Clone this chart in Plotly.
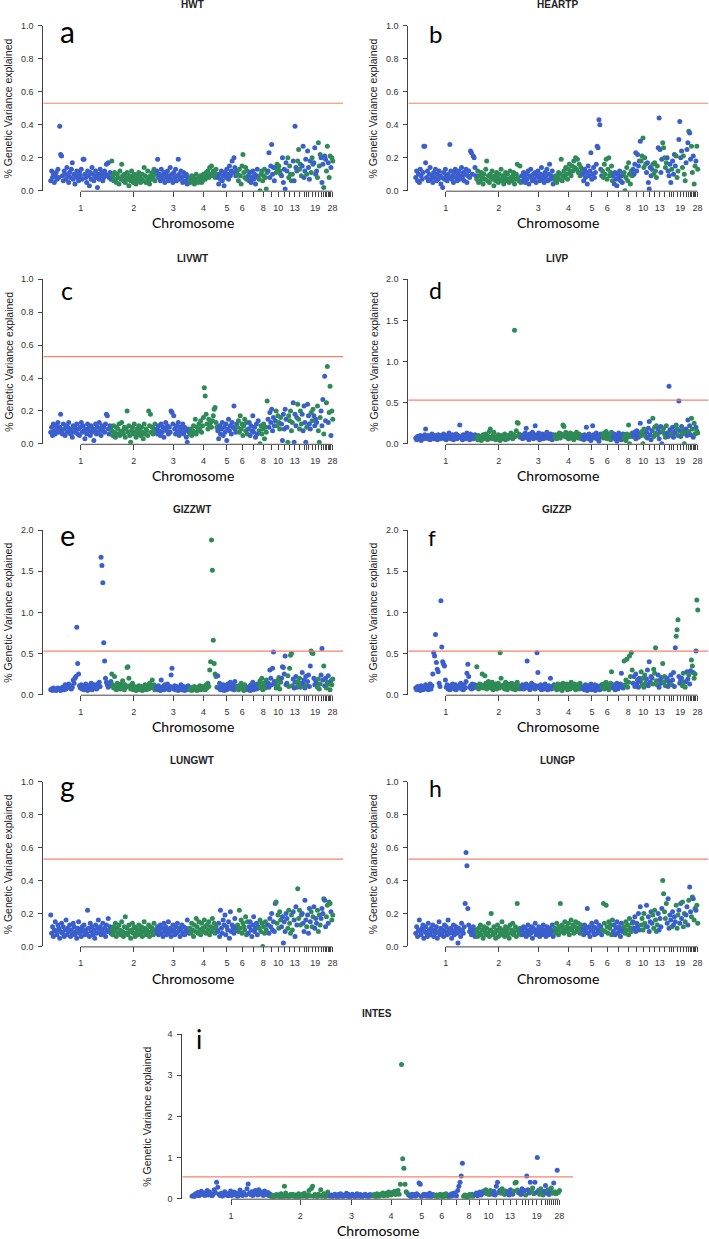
import plotly.graph_objects as go

# ---------------- data ----------------
# chromosome sizes expressed as number of 1-Mb windows (read from the axis layout)
CHR_WINDOWS = [203, 151, 111, 91, 66, 36, 38, 28, 26, 20, 19, 18, 16, 16, 14, 3,
               11, 11, 10, 14, 7, 4, 6, 6, 3, 5, 5, 5]
CHR_NAMES = [str(i) for i in range(1, 29)]
SHOWN_LABELS = ["1", "2", "3", "4", "5", "6", "8", "10", "13", "19", "28"]
THRESHOLD = 0.53

# % genetic variance explained (x100), read along the genome from left to right
HWT = [
    6,12,8,10,5,9,11,7,13,8, 39,22,21,9,6,12,10,7,14,9, 5,11,8,13,17,7,10,4,9,12,
    8,6,11,9,13,7,19,19,10,8, 5,12,9,3,11,7,14,10,6,9, 12,8,2,10,7,13,9,11,6,8,
    12,10,16,9,17,8,11,7,
    18,9,6,11,7,5,10,8,4,12, 7,16,9,6,10,5,8,11,7,3, 9,6,12,8,5,10,7,4,9,6,
    11,8,5,7,10,6,14,9,5,8, 12,6,4,9,7,11,8,13,6,10,
    12,19,8,10,6,13,9,7,11,5, 10,8,12,6,9,14,7,10,5,11, 8,13,6,9,19,10,7,12,8,5,
    11,9,6,10,4,8,7,
    7,5,9,6,8,4,7,10,6,5, 8,7,9,5,6,10,8,7,11,9, 12,8,14,10,15,9,12,11,8,13, 10,
    8,4,10,7,12,6,9,3,11,8, 13,10,7,15,9,12,18,11,20,14, 9,12,
    10,6,13,9,4,15,22,11,8,14,7,12,
    9,6,11,5,8,12,7,10,4,9,13,8,
    7,0,10,12,6,9,13,8,1,11,
    12,23,8,15,28,10,14,6,
    14,11,16,13,15,12,10,
    9,20,5,13,1,17,
    12,20,8,15,10,6,
    10,18,6,39,14,12,
    18,25,13,16,9,
    15,27,8,12,19,
    10,
    24,14,7,
    18,11,20,16,
    17,26,10,
    12,8,29,15,22,
    20,5,
    16,2,21,19,12,27,17,8,21,14,20,18,
]

HEARTP = [
    8,12,6,10,5,13,9,7,11,27, 27,17,8,12,6,10,14,7,9,5, 11,8,13,6,10,7,12,9,4,8,
    2,11,7,13,9,6,10,8,28,12, 7,9,5,11,13,8,6,10,12,7, 9,14,8,11,6,10,13,5,9,12,
    8,24,23,10,21,20,14,9,
    7,12,5,9,6,11,8,4,10,7, 13,18,6,9,5,10,8,12,7,3, 9,6,11,8,5,10,7,13,6,9,
    4,8,11,6,10,7,5,12,8,6, 9,11,4,7,10,16,8,6,15,5,
    9,6,11,8,5,10,7,12,4,9, 13,8,6,10,7,11,5,9,12,8, 6,10,14,7,9,5,11,8,13,6,
    10,16,7,9,12,4,8,
    6,9,5,8,11,7,10,19,6,9, 12,8,14,10,7,13,16,11,9,15, 12,18,14,20,13,19,11,16,9,14, 12,
    10,6,13,8,11,4,15,9,12,23, 7,10,14,8,11,16,27,26,43,40, 13,9,
    12,8,16,10,19,7,13,20,9,11,15,6,
    9,4,11,7,3,10,8,12,6,9,5,10,
    11,0,8,14,6,17,10,4,12,9,
    13,10,16,23,12,22,15,18,
    30,18,21,32,14,20,16,
    11,17,5,1,14,9,
    13,16,10,17,12,8,
    15,26,44,25,11,19,
    29,26,20,14,17,
    20,12,9,16,5,
    13,
    18,10,22,
    15,21,8,12,
    31,42,20,
    24,14,21,10,6,
    17,25,
    29,36,35,19,27,11,21,4,15,18,27,13,
]

LIVWT = [
    7,10,5,12,8,6,11,9,13,7, 10,18,8,6,12,9,5,11,7,10, 13,8,6,9,4,11,7,10,8,12,
    6,9,5,10,13,7,11,8,3,9, 6,12,8,10,5,11,7,9,2,8, 12,6,10,7,13,9,5,11,8,10,
    7,12,18,17,9,6,11,10,
    8,5,11,7,4,10,6,9,12,5, 7,13,8,6,10,4,9,20,7,11, 5,1,8,10,6,12,7,4,9,6,
    11,8,5,10,7,3,12,6,9,8, 5,20,11,18,7,10,6,9,12,8,
    9,6,11,8,5,12,7,10,4,9, 13,8,11,6,10,7,20,19,12,17, 9,6,11,8,13,5,10,7,9,12,
    6,10,8,4,1,9,7,
    6,9,5,8,11,7,15,6,10,8, 12,9,14,7,11,16,34,29,18,12, 9,15,11,13,10,14,17,21,22,13, 10,
    8,3,11,6,9,13,5,10,7,12, 2,9,15,8,11,6,13,10,23,9, 7,12,
    10,14,7,17,9,12,5,11,15,8,13,6,
    9,13,5,11,8,17,7,10,4,12,6,14,
    8,0,11,6,9,12,3,10,7,26,
    15,10,19,13,21,8,16,11,
    14,20,11,17,13,9,16,
    12,2,18,9,21,15,
    10,1,17,14,20,8,
    13,25,1,18,11,16,
    24,15,9,20,12,
    18,8,23,13,1,
    10,
    24,17,12,
    9,19,14,21,
    17,11,15,
    13,23,8,1,16,
    20,11,
    27,6,41,14,25,47,13,19,35,5,20,15,
]

LIVP = [
    7,5,9,6,8,10,4,7,9,6, 11,18,8,6,10,7,5,9,12,8, 6,10,7,9,5,11,8,6,10,7,
    9,12,6,8,5,10,7,13,9,6, 8,11,5,9,7,12,6,10,8,23, 7,9,5,11,8,6,10,13,7,9,
    5,12,8,10,6,9,11,7,
    8,5,10,6,9,4,7,11,6,8, 12,7,5,9,15,18,8,6,10,14, 7,5,9,6,11,8,4,10,7,6,
    9,12,5,8,6,10,7,9,13,8, 6,11,138,9,16,26,25,12,8,10,
    9,6,11,8,13,19,7,10,5,12, 8,9,14,6,10,22,11,7,9,13, 5,10,8,12,6,9,11,7,14,8,
    10,6,12,9,5,11,8,
    8,11,6,10,9,13,7,12,10,23, 21,9,14,8,11,6,10,13,7,12, 9,5,11,8,14,10,7,12,9,6, 10,
    8,5,11,7,20,9,6,12,10,4, 8,22,11,7,9,13,6,10,3,8, 12,9,
    10,7,13,9,15,6,11,8,12,5,14,9,
    8,12,6,10,3,9,13,7,11,5,9,12,
    7,10,4,12,8,23,0,11,9,13,
    12,9,14,6,16,11,8,13,
    25,10,15,0,18,12,9,
    14,7,19,27,11,5,
    16,31,9,20,13,22,
    11,18,6,14,21,0,
    15,19,12,8,22,
    13,9,70,17,11,
    12,
    20,8,15,
    13,23,18,10,
    52,16,9,
    21,12,17,0,14,
    18,10,
    29,15,22,11,31,18,8,25,12,20,16,13,
]

GIZZWT = [
    6,7,5,8,6,7,5,6,8,7, 6,5,7,9,8,6,12,7,10,9, 13,8,11,7,9,18,14,20,22,82,
    38,25,11,8,12,7,10,6,9,13, 8,5,11,7,10,14,6,9,12,8, 11,7,13,9,15,10,167,157,136,63,
    41,20,15,12,9,14,11,16,
    25,12,8,22,10,6,14,9,11,7, 13,8,17,10,6,12,9,33,34,20, 11,7,9,14,6,10,8,5,9,7,
    11,6,8,10,5,9,7,12,6,8, 10,7,14,9,11,18,8,12,6,9,
    9,6,11,7,5,18,8,10,6,12, 9,7,13,8,6,10,24,32,9,7, 11,6,10,8,5,9,7,12,6,8,
    10,5,9,7,6,11,8,
    6,8,5,9,7,10,6,8,5,9, 7,11,6,8,10,7,9,6,12,8, 14,10,30,40,188,151,66,38,25,22, 9,
    23,8,14,6,10,7,12,5,9,11, 6,13,8,10,15,7,9,12,6,16, 8,10,
    9,6,11,8,14,7,10,5,12,9,6,8,
    7,10,5,12,8,15,6,9,11,7,13,8,
    12,17,9,20,6,14,11,8,18,10,
    14,9,30,20,12,32,52,16,
    13,8,17,11,21,7,15,
    20,34,33,25,47,12,
    14,23,10,32,48,50,
    11,19,8,15,22,9,
    16,12,20,9,14,
    27,13,18,8,22,
    11,
    16,24,10,
    35,53,51,50,
    20,12,17,
    14,9,19,7,13,
    24,56,
    18,35,11,20,8,15,23,13,6,17,12,19,
]

GIZZP = [
    8,6,10,7,9,5,11,8,6,9, 7,12,8,10,6,9,13,7,11,25, 51,47,73,39,31,28,14,10,114,58,
    40,37,35,18,9,12,7,10,6,11, 8,13,9,7,12,6,10,8,11,9, 14,7,10,6,12,8,16,26,37,22,
    9,11,7,13,8,10,12,9,
    34,10,7,13,9,12,25,8,11,23, 14,7,10,16,9,12,8,15,6,11, 9,13,7,10,14,8,51,20,11,9,
    12,7,15,10,6,13,9,11,8,14, 7,10,12,6,9,15,8,11,7,10,
    9,12,7,10,8,13,41,9,11,6, 10,14,8,12,9,7,11,51,27,10, 8,12,6,9,11,7,13,10,8,6,
    11,9,20,7,10,8,12,
    8,11,6,13,9,7,12,10,5,14, 8,11,9,13,6,10,12,7,15,9, 11,8,13,6,10,12,9,7,14,10, 8,
    7,10,6,12,8,5,11,9,7,13, 6,10,8,12,5,9,11,7,10,6, 8,12,
    9,13,7,11,15,8,12,6,10,14,28,9,
    8,12,6,10,14,7,11,9,13,26,10,8,
    41,12,18,43,9,15,47,22,51,30,
    14,22,10,25,13,18,9,20,
    16,28,12,20,9,24,14,
    19,30,11,40,15,22,
    20,13,31,26,57,17,
    12,24,9,18,14,21,
    38,15,22,11,17,
    20,10,16,13,24,
    12,
    18,27,10,
    57,71,79,91,
    22,14,18,
    20,11,26,15,9,
    16,28,
    19,24,13,29,42,35,27,20,25,53,115,103,
]

LUNGWT = [
    19,8,12,6,10,15,9,7,13,11, 5,9,14,8,12,6,10,16,7,11, 9,13,6,10,8,14,12,7,9,5,
    11,15,8,10,6,12,9,13,7,10, 8,22,11,6,14,9,12,7,10,5, 13,8,11,16,9,12,7,10,14,8,
    11,6,13,9,17,10,12,8,
    10,7,12,9,14,6,11,8,13,10, 7,15,9,6,12,18,8,11,7,13, 9,5,10,14,8,12,6,11,9,7,
    13,10,8,12,6,9,15,11,7,10, 8,13,6,12,9,11,7,14,10,8,
    9,12,7,10,13,8,11,6,14,9, 12,7,10,15,8,11,6,9,13,10, 7,12,8,14,9,11,6,10,13,8,
    12,7,9,11,16,10,8,
    11,8,14,10,6,13,9,17,12,8, 15,10,7,14,11,9,16,12,8,13, 10,15,7,12,9,17,11,14,8,12, 10,
    9,14,6,22,11,8,16,13,19,7, 12,10,15,5,21,9,13,11,8,17, 12,10,
    13,9,22,11,16,8,14,12,10,18,7,15,
    8,12,15,10,6,13,18,9,11,14,7,12,
    11,16,9,14,0,12,8,15,10,13,
    13,8,17,12,20,10,15,9,
    26,27,14,19,11,21,16,
    12,18,2,15,9,20,
    17,11,22,14,8,19,
    10,21,16,6,24,13,
    35,17,22,13,19,
    20,14,9,28,16,
    12,
    19,8,23,
    15,21,12,18,
    24,11,17,
    14,22,9,19,13,
    17,23,
    20,29,28,12,18,25,14,27,26,21,16,19,
]

LUNGP = [
    8,12,6,10,16,9,7,11,13,5, 9,12,8,6,14,10,7,11,9,13, 6,10,8,12,5,9,15,7,11,8,
    10,6,13,9,12,7,16,10,8,11, 5,9,13,7,10,12,8,2,11,9, 6,14,10,8,12,26,57,49,23,13,
    9,11,7,10,12,8,6,10,
    9,6,11,8,13,7,10,5,12,9, 7,11,8,14,6,10,20,9,7,12, 8,5,10,13,6,9,11,7,15,8,
    10,6,12,9,7,11,5,13,8,10, 14,7,9,12,6,26,10,8,11,7,
    10,7,12,8,11,6,9,13,7,10, 8,12,5,11,9,14,7,10,8,12, 6,9,11,7,13,8,10,6,12,9,
    7,11,8,10,13,6,9,
    11,8,14,10,7,12,26,9,13,11, 8,15,10,12,9,14,7,11,16,10, 13,8,12,15,9,11,14,10,8,13, 12,
    10,7,13,9,11,23,8,12,6,10, 14,9,12,7,11,15,8,10,13,9, 12,7,
    10,26,14,9,25,12,8,15,11,13,7,16,
    9,13,7,11,15,8,12,10,6,14,9,11,
    12,8,15,10,13,7,17,11,9,14,
    15,11,18,9,14,12,20,10,
    24,13,17,10,20,14,12,
    25,12,18,9,15,21,
    14,19,11,22,16,9,
    13,20,10,17,12,23,
    40,32,21,17,26,
    14,29,11,19,16,
    12,
    21,13,18,
    15,25,11,19,
    22,14,26,
    17,27,12,20,15,
    19,24,
    13,28,36,21,18,30,29,16,23,22,25,14,
]

INTES = [
    6,8,5,12,9,15,7,11,18,10, 14,8,13,20,9,16,12,7,10,22, 15,40,28,11,8,13,6,10,17,9,
    12,7,14,19,8,11,16,9,13,6, 10,21,12,8,15,11,9,24,36,13, 10,17,8,12,20,14,9,22,11,16,
    13,8,19,12,10,15,7,11,
    5,8,4,7,10,6,9,5,12,7, 4,30,14,6,8,5,10,7,11,6, 9,4,8,12,5,7,10,6,13,8,
    5,9,20,7,25,30,6,10,8,5, 11,7,22,6,9,12,5,8,16,7,
    6,9,5,8,11,7,4,10,6,12, 8,5,9,7,13,6,10,4,8,11, 7,5,9,12,6,8,10,4,7,9,
    11,6,8,5,10,7,9,
    7,10,5,12,8,6,11,9,14,7, 10,13,8,16,11,9,15,12,18,10, 14,20,11,35,326,97,74,35,17,13, 9,
    8,5,11,7,10,6,12,9,38,35, 5,8,11,7,10,6,9,13,5,8, 10,7,
    6,9,5,8,11,7,4,10,6,12,8,5,
    9,6,12,8,14,10,7,20,30,40,55,86,
    6,9,5,8,4,10,7,11,6,9,
    10,14,7,12,16,9,13,18,
    15,22,12,18,10,20,14,
    11,18,9,30,40,15,
    20,13,24,16,10,19,
    12,17,9,22,14,11,
    18,38,40,21,14,
    16,10,24,13,20,
    9,
    55,22,14,
    40,18,26,12,
    40,15,100,
    20,11,24,15,9,
    18,32,
    14,22,10,19,26,13,38,17,12,69,15,20,
]

# ---------------- styling / layout ----------------
W, H = 709, 1239
BLUE = "#3A5FCD"
GREEN = "#2E8B57"
RED = "#F3826F"
AXC = "#444444"
TXT = "#222222"
TICKFONT = dict(family="Liberation Sans, Arial, sans-serif", size=9, color="#333333")

LEFT = (43.3, 343.3)
RIGHT = (408.3, 708.3)
BOTTOM = (182.3, 573.3)
ROWS = [(25.7, 190.7), (279.3, 443.8), (530.0, 694.7), (781.7, 946.4)]
ROW_I = (1034.0, 1198.7)

# (title, letter, values, ymax, ytick step, x-extent, y-extent, letter x, letter baseline, letter size)
PANELS = [
    ("HWT", "a", HWT, 1.0, 0.2, LEFT, ROWS[0], 67.5, 42.7, 30),
    ("HEARTP", "b", HEARTP, 1.0, 0.2, RIGHT, ROWS[0], 435.3, 42.7, 24),
    ("LIVWT", "c", LIVWT, 1.0, 0.2, LEFT, ROWS[1], 66.8, 299.3, 25),
    ("LIVP", "d", LIVP, 2.0, 0.5, RIGHT, ROWS[1], 435.3, 299.3, 23),
    ("GIZZWT", "e", GIZZWT, 2.0, 0.5, LEFT, ROWS[2], 67.2, 546.0, 29),
    ("GIZZP", "f", GIZZP, 2.0, 0.5, RIGHT, ROWS[2], 432.2, 546.0, 22),
    ("LUNGWT", "g", LUNGWT, 1.0, 0.2, LEFT, ROWS[3], 67.3, 796.7, 28),
    ("LUNGP", "h", LUNGP, 1.0, 0.2, RIGHT, ROWS[3], 435.3, 796.7, 23),
    ("INTES", "i", INTES, 4.0, 1.0, BOTTOM, ROW_I, 199.0, 1049.0, 26),
]

TOTAL = sum(CHR_WINDOWS)
bounds = []
acc = 0
for w in CHR_WINDOWS:
    bounds.append((acc, acc + w))
    acc += w
centers = [(a + b) / 2 for a, b in bounds]
ticktext = [n if n in SHOWN_LABELS else "" for n in CHR_NAMES]

# x range: plot region extends ~23 windows left of the first window and ~34 past the last
XR = [-23.3, TOTAL + 33.7]


def chrom_of(x):
    for i, (a, b) in enumerate(bounds):
        if a <= x < b:
            return i
    return len(bounds) - 1


def px(x):
    return x / W


def py(y):
    return 1 - y / H


fig = go.Figure()
layout = dict(
    width=W, height=H, margin=dict(l=0, r=0, t=0, b=0),
    paper_bgcolor="white", plot_bgcolor="white", showlegend=False,
)
shapes = []
annotations = []

for n, (title, letter, vals, ymax, ystep, xe, ye, lx, lby, lsize) in enumerate(PANELS, start=1):
    sfx = "" if n == 1 else str(n)
    N = len(vals)
    xs = [(k + 0.5) * TOTAL / N for k in range(N)]
    ys = [v / 100.0 for v in vals]
    cols = [BLUE if chrom_of(x) % 2 == 0 else GREEN for x in xs]
    fig.add_trace(go.Scatter(
        x=xs, y=ys, mode="markers", xaxis="x" + sfx, yaxis="y" + sfx,
        marker=dict(size=5, color=cols, line=dict(width=0)),
        hoverinfo="skip",
    ))
    nt = int(round(ymax / ystep))
    yvals = [i * ystep for i in range(nt + 1)]
    if ymax >= 4:
        ytext = [f"{v:.0f}" for v in yvals]
    else:
        ytext = [f"{v:.1f}" for v in yvals]
    layout["xaxis" + sfx] = dict(
        domain=[px(xe[0]), px(xe[1])], anchor="y" + sfx, range=XR,
        showgrid=False, zeroline=False, showline=False,
        ticks="outside", ticklen=5, tickwidth=1, tickcolor=AXC,
        tickvals=centers, ticktext=ticktext, tickfont=TICKFONT,
        ticklabelstandoff=3, automargin=False, fixedrange=True,
    )
    layout["yaxis" + sfx] = dict(
        domain=[py(ye[1]), py(ye[0])], anchor="x" + sfx, range=[0, ymax],
        showgrid=False, zeroline=False, showline=True, linecolor=AXC, linewidth=1,
        ticks="outside", ticklen=4, tickwidth=1, tickcolor=AXC,
        tickvals=yvals, ticktext=ytext, tickfont=TICKFONT,
        ticklabelstandoff=3, automargin=False, fixedrange=True,
    )
    # R-style x axis line: from first to last chromosome tick
    shapes.append(dict(
        type="line", xref="x" + sfx, yref="paper",
        x0=centers[0], x1=centers[-1], y0=py(ye[1] + 0.5), y1=py(ye[1] + 0.5),
        line=dict(color=AXC, width=1),
    ))
    # significance threshold
    shapes.append(dict(
        type="line", xref="x" + sfx, yref="y" + sfx,
        x0=XR[0], x1=XR[1], y0=THRESHOLD, y1=THRESHOLD,
        line=dict(color=RED, width=1.2),
    ))
    cx = (xe[0] + xe[1]) / 2
    cy = (ye[0] + ye[1]) / 2
    annotations.append(dict(
        text=f"<b>{title}</b>", xref="paper", yref="paper",
        x=px(cx - 1), y=py(ye[0] - 21), xanchor="center", yanchor="middle",
        showarrow=False, font=dict(family="Liberation Sans, Arial, sans-serif", size=10, color=TXT),
    ))
    annotations.append(dict(
        text=letter, xref="paper", yref="paper",
        x=px(lx), y=py(lby - 0.387 * lsize), xanchor="center", yanchor="middle",
        showarrow=False, font=dict(family="Lato, sans-serif", size=lsize, color="black"),
    ))
    annotations.append(dict(
        text="% Genetic Variance explained", xref="paper", yref="paper",
        x=px(xe[0] - 35), y=py(cy), xanchor="center", yanchor="middle", textangle=-90,
        showarrow=False, font=dict(family="Liberation Sans, Arial, sans-serif", size=10.5, color=TXT),
    ))
    annotations.append(dict(
        text="Chromosome", xref="paper", yref="paper",
        x=px(cx), y=py(ye[1] + 32), xanchor="center", yanchor="middle",
        showarrow=False, font=dict(family="Lato, sans-serif", size=14, color="black"),
    ))

layout["shapes"] = shapes
layout["annotations"] = annotations
fig.update_layout(**layout)

fig.write_html(
    "out.html",
    config={"displayModeBar": False},
    post_script="document.body.style.margin='0';document.body.style.overflow='hidden';",
)
